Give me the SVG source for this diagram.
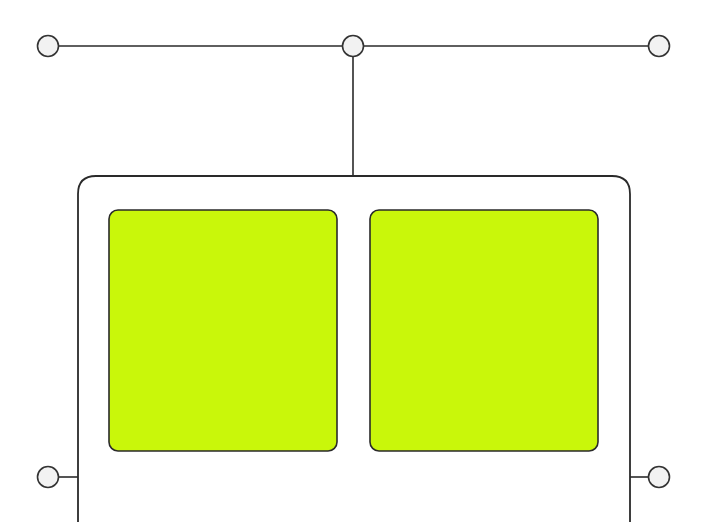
<svg xmlns="http://www.w3.org/2000/svg" width="706" height="523" viewBox="0 0 706 523">
<style>
.ln{stroke:#2a2a2a;stroke-width:1.6;fill:none}
.port{fill:#f2f2f2;stroke:#333;stroke-width:1.6}
.box{fill:#c9f70a;stroke:#2a2a2a;stroke-width:1.6}
.frame{fill:none;stroke:#2a2a2a;stroke-width:1.8}
</style>
<rect width="706" height="523" fill="#ffffff"/>
<g id="connectors">
<line class="ln" x1="58" y1="46" x2="343" y2="46"/>
<line class="ln" x1="363" y1="46" x2="649" y2="46"/>
<line class="ln" x1="353" y1="56" x2="353" y2="176"/>
<line class="ln" x1="58" y1="477" x2="78" y2="477"/>
<line class="ln" x1="630" y1="477" x2="649" y2="477"/>
</g>
<g id="frame">
<path class="frame" d="M78 522 V194 Q78 176 96 176 H612 Q630 176 630 194 V522"/>
</g>
<g id="panel-left"><rect class="box" x="109" y="210" width="228" height="241" rx="9"/></g>
<g id="panel-right"><rect class="box" x="370" y="210" width="228" height="241" rx="9"/></g>
<g id="port-top-left"><circle class="port" cx="48" cy="46" r="10.5"/></g>
<g id="port-top-mid"><circle class="port" cx="353" cy="46" r="10.5"/></g>
<g id="port-top-right"><circle class="port" cx="659" cy="46" r="10.5"/></g>
<g id="port-left"><circle class="port" cx="48" cy="477" r="10.5"/></g>
<g id="port-right"><circle class="port" cx="659" cy="477" r="10.5"/></g>
</svg>
